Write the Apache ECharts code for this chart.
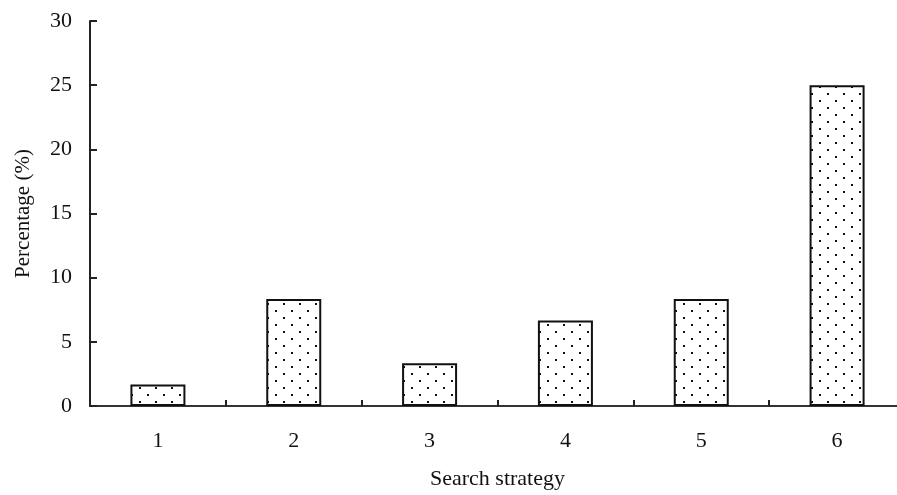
<!DOCTYPE html>
<html>
<head>
<meta charset="utf-8">
<script src="https://cdn.jsdelivr.net/npm/echarts@6/dist/echarts.min.js"></script>
<style>
html,body{margin:0;padding:0;background:#fff;overflow:hidden;}
#chart{width:897px;height:495px;}
</style>
</head>
<body>
<div id="chart"></div>
<script>
const categories = ['1', '2', '3', '4', '5', '6'];
const percentages = [1.67, 8.33, 3.33, 6.67, 8.33, 25];
const yTicks = [0, 5, 10, 15, 20, 25, 30];
const xAxisTitle = 'Search strategy';
const yAxisTitle = 'Percentage (%)';

// dotted fill pattern
const tile = document.createElement('canvas');
tile.width = 16; tile.height = 14;
const ctx = tile.getContext('2d');
ctx.fillStyle = '#ffffff';
ctx.fillRect(0, 0, 16, 14);
ctx.fillStyle = '#111111';
ctx.fillRect(3, 2, 2, 2);
ctx.fillRect(11, 9, 2, 2);

const font = '"Liberation Serif", "Times New Roman", serif';
const chart = echarts.init(document.getElementById('chart'));
chart.setOption({
  animation: false,
  backgroundColor: '#fff',
  grid: { left: 90, top: 21, height: 385, width: 815, containLabel: false, outerBoundsMode: 'none' },
  xAxis: {
    type: 'category',
    data: categories,
    boundaryGap: true,
    name: xAxisTitle,
    nameLocation: 'middle',
    nameGap: 62,
    nameTextStyle: { fontFamily: font, fontSize: 22, color: '#111' },
    axisLine: { lineStyle: { color: '#333', width: 2 } },
    axisTick: { show: true, inside: true, length: 6, alignWithLabel: false, lineStyle: { color: '#222', width: 2 } },
    axisLabel: { fontFamily: font, fontSize: 22, color: '#111', margin: 24 },
    splitLine: { show: false }
  },
  yAxis: {
    type: 'value',
    min: yTicks[0],
    max: yTicks[yTicks.length - 1],
    interval: 5,
    name: yAxisTitle,
    nameLocation: 'middle',
    nameGap: 56,
    nameTextStyle: { fontFamily: font, fontSize: 21, color: '#111' },
    axisLine: { show: true, lineStyle: { color: '#222', width: 2 } },
    axisTick: { show: true, inside: true, length: 7, lineStyle: { color: '#222', width: 2 } },
    axisLabel: { fontFamily: font, fontSize: 22, color: '#111', margin: 18 },
    splitLine: { show: false }
  },
  series: [{
    type: 'bar',
    data: percentages,
    barWidth: 55,
    itemStyle: {
      color: { image: tile, repeat: 'repeat' },
      borderColor: '#111',
      borderWidth: 2
    }
  }]
});
</script>
</body>
</html>
